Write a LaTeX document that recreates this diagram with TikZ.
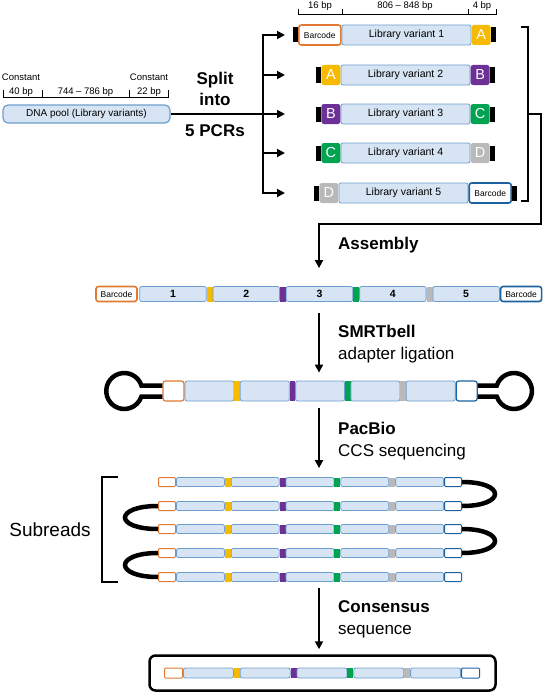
\documentclass[tikz,border=0pt]{standalone}
\usepackage{fontspec}
\setmainfont{Liberation Sans}
\usetikzlibrary{arrows.meta, positioning, calc}
\definecolor{libfill}{RGB}{214,228,243}
\definecolor{libline}{RGB}{110,158,206}
\definecolor{bcorange}{RGB}{224,122,50}
\definecolor{bcblue}{RGB}{28,98,160}
\definecolor{tagyellow}{RGB}{246,186,0}
\definecolor{tagpurple}{RGB}{108,48,150}
\definecolor{taggreen}{RGB}{0,164,80}
\definecolor{taggray}{RGB}{185,185,185}

\begin{document}
\begin{tikzpicture}[x=1pt,y=-1pt,
    seg/.style={rectangle,draw=libline,fill=libfill,line width=0.8pt,rounded corners=2pt,inner sep=0pt},
    bcode/.style={rectangle,draw=#1,fill=white,line width=1.6pt,rounded corners=2.5pt,inner sep=0pt,font=\fontsize{8.5}{10}\selectfont},
    link/.style={rectangle,fill=#1,inner sep=0pt,outer sep=0pt},
    tag/.style={rectangle,fill=#1,rounded corners=2.5pt,inner sep=0pt,minimum width=19pt,minimum height=20pt,text=white,font=\fontsize{14.5}{14}\selectfont},
    endcap/.style={rectangle,fill=black,inner sep=0pt,minimum width=5pt,minimum height=15pt},
    flow/.style={-{Triangle[length=8pt,width=8pt]},line width=1.8pt},
    stage/.style={anchor=west,inner sep=0pt,align=left,font=\fontsize{17}{22}\selectfont},
    dim/.style={inner sep=0pt,align=center,font=\fontsize{9.5}{14}\selectfont},
    hairpin/.style={line width=4.5pt}]

    \useasboundingbox (0,0) rectangle (543,693);

    % DNA pool with its constant ends
    \node[seg,minimum width=167pt,minimum height=18pt,rounded corners=5pt,line width=1.2pt,font=\fontsize{10}{12}\selectfont] (pool) at (86.5,114) {DNA pool (Library variants)};
    \node[dim] (c40) at (21,85) {Constant\\40 bp};
    \node[dim] (var) at (85.5,92) {744 -- 786 bp};
    \node[dim] (c22) at (149,85) {Constant\\22 bp};
    \draw[line width=1pt] (3,90) -- (3,97) -- (168,97) -- (168,90) (42,90) -- (42,97) (129,90) -- (129,97);

    % Split into 5 PCRs
    \node[font=\bfseries\fontsize{17}{21}\selectfont,align=center] (split) at (215,89) {Split\\into};
    \node[font=\bfseries\fontsize{17}{21}\selectfont] (pcrs) at (215,131) {5 PCRs};

    % PCR products
    \begin{scope}[seg/.append style={minimum width=129pt,minimum height=20pt,font=\fontsize{10.5}{12}\selectfont},
                  bcode/.append style={minimum width=42pt,minimum height=20pt}]
    \node[seg] (lib1) at (406.5,35) {Library variant 1};
    \node[bcode=bcorange,left=0pt of lib1] (bc1) {Barcode};
    \node[tag=tagyellow,right=0pt of lib1] (tr1) {A};
    \node[endcap,left=0pt of bc1] (cl1) {};
    \node[endcap,right=0pt of tr1] (cr1) {};

    \node[seg] (lib2) at (405.5,75) {Library variant 2};
    \node[tag=tagyellow,left=0pt of lib2] (tl2) {A};
    \node[tag=tagpurple,right=0pt of lib2] (tr2) {B};
    \node[endcap,left=0pt of tl2] (cl2) {};
    \node[endcap,right=0pt of tr2] (cr2) {};

    \node[seg] (lib3) at (405.5,114) {Library variant 3};
    \node[tag=tagpurple,left=0pt of lib3] (tl3) {B};
    \node[tag=taggreen,right=0pt of lib3] (tr3) {C};
    \node[endcap,left=0pt of tl3] (cl3) {};
    \node[endcap,right=0pt of tr3] (cr3) {};

    \node[seg] (lib4) at (405.5,153) {Library variant 4};
    \node[tag=taggreen,left=0pt of lib4] (tl4) {C};
    \node[tag=taggray,right=0pt of lib4] (tr4) {D};
    \node[endcap,left=0pt of tl4] (cl4) {};
    \node[endcap,right=0pt of tr4] (cr4) {};

    \node[seg] (lib5) at (403.5,193) {Library variant 5};
    \node[tag=taggray,left=0pt of lib5] (tl5) {D};
    \node[bcode=bcblue,right=0pt of lib5] (bc5) {Barcode};
    \node[endcap,left=0pt of tl5] (cl5) {};
    \node[endcap,right=0pt of bc5] (cr5) {};
    \end{scope}

    \node[dim] (d16) at (320,6) {16 bp};
    \node[dim] (d806) at (405,6) {806 -- 848 bp};
    \node[dim] (d4) at (482,6) {4 bp};
    \draw[line width=1pt] (298,9) -- (298,15) -- (496,15) -- (496,9) (342,9) -- (342,15) (468,9) -- (468,15);

    % Split arrows
    \coordinate (hub) at (263,114);
    \coordinate (tips) at (285,114);
    \draw[line width=1.8pt] (pool.east) -- (hub);
    \draw[line width=1.8pt,line cap=rect] (hub |- lib1) -- (hub |- lib5);
    \foreach \i in {1,...,5}
        \draw[flow] (hub |- lib\i) -- (tips |- lib\i);

    % Assembled construct
    \begin{scope}[seg/.append style={minimum width=66.5pt,minimum height=15pt,font=\bfseries\fontsize{10.5}{12}\selectfont},
                  link/.append style={minimum width=6pt,minimum height=15pt},
                  bcode/.append style={minimum width=41pt,minimum height=15pt}]
    \node[bcode=bcorange] (ab1) at (116.5,294) {Barcode};
    \node[seg,right=1.5pt of ab1] (n1) {1};
    \node[link=tagyellow,right=0pt of n1] (k1) {};
    \node[seg,right=0pt of k1] (n2) {2};
    \node[link=tagpurple,right=0pt of n2] (k2) {};
    \node[seg,right=0pt of k2] (n3) {3};
    \node[link=taggreen,right=0pt of n3] (k3) {};
    \node[seg,right=0pt of k3] (n4) {4};
    \node[link=taggray,right=0pt of n4] (k4) {};
    \node[seg,right=0pt of k4] (n5) {5};
    \node[bcode=bcblue,right=0pt of n5] (ab2) {Barcode};
    \end{scope}

    % Assembly connector
    \coordinate (axis) at (319,300);
    \coordinate (join) at (528,114);
    \coordinate (turn) at (541,224);
    \draw[line width=1.8pt] (521,27) -- (528,27) -- (528,201) -- (521,201);
    \draw[flow,shorten >=18pt] (join) -| (turn) -| (axis |- n3.north);
    \node[stage] (asm) at (338,245) {\textbf{Assembly}};

    % SMRTbell template
    \begin{scope}[seg/.append style={minimum width=49pt,minimum height=20pt},
                  link/.append style={minimum width=5.5pt,minimum height=20pt},
                  bcode/.append style={minimum width=21pt,minimum height=20pt,line width=1.2pt}]
    \node[bcode=bcorange] (sb1) at (173.5,391) {};
    \node[seg,right=0pt of sb1] (s1) {};
    \node[link=tagyellow,right=0pt of s1] (m1) {};
    \node[seg,right=0pt of m1] (s2) {};
    \node[link=tagpurple,right=0pt of s2] (m2) {};
    \node[seg,right=0pt of m2] (s3) {};
    \node[link=taggreen,right=0pt of s3] (m3) {};
    \node[seg,right=0pt of m3] (s4) {};
    \node[link=taggray,right=0pt of s4] (m4) {};
    \node[seg,right=0pt of m4] (s5) {};
    \node[bcode=bcblue,right=0pt of s5] (sb2) {};
    \end{scope}
    \draw[hairpin] ([yshift=5.5pt]sb1.west) -- ++(-21,0) arc[start angle=-17.8,end angle=-342.2,radius=18] -- ([yshift=-5.5pt]sb1.west);
    \draw[hairpin] ([yshift=5.5pt]sb2.east) -- ++(19,0) arc[start angle=-162.2,end angle=162.2,radius=18] -- ([yshift=-5.5pt]sb2.east);

    \draw[flow,shorten <=11pt,shorten >=8pt] (axis |- n3.south) -- (axis |- s3.north);
    \node[stage] (smrt) at (338,344) {\textbf{SMRTbell}\\adapter ligation};

    % Subreads
    \begin{scope}[seg/.append style={minimum width=48pt,minimum height=9pt},
                  link/.append style={minimum width=6pt,minimum height=9pt},
                  bcode/.append style={minimum width=17pt,minimum height=9pt,line width=1pt,rounded corners=1pt}]
    \foreach \r/\y in {1/482,2/506,3/529,4/553,5/577}{
        \node[bcode=bcorange] (r\r-0) at (167,\y) {};
        \node[seg,right=0pt of r\r-0] (r\r-1) {};
        \node[link=tagyellow,right=0pt of r\r-1] (r\r-k1) {};
        \node[seg,right=0pt of r\r-k1] (r\r-2) {};
        \node[link=tagpurple,right=0pt of r\r-2] (r\r-k2) {};
        \node[seg,right=0pt of r\r-k2] (r\r-3) {};
        \node[link=taggreen,right=0pt of r\r-3] (r\r-k3) {};
        \node[seg,right=0pt of r\r-k3] (r\r-4) {};
        \node[link=taggray,right=0pt of r\r-4] (r\r-k4) {};
        \node[seg,right=0pt of r\r-k4] (r\r-5) {};
        \node[bcode=bcblue,right=0pt of r\r-5] (r\r-6) {};
    }
    \end{scope}
    \draw[hairpin] (r1-6.east) .. controls +(44,0) and +(44,0) .. (r2-6.east);
    \draw[hairpin] (r3-6.east) .. controls +(44,0) and +(44,0) .. (r4-6.east);
    \draw[hairpin] (r2-0.west) .. controls +(-44,0) and +(-44,0) .. (r3-0.west);
    \draw[hairpin] (r4-0.west) .. controls +(-44,0) and +(-44,0) .. (r5-0.west);

    \draw[line width=1.5pt] (118,477) -- (102,477) -- (102,582) -- (118,582);
    \node[font=\fontsize{19}{22}\selectfont] (subreads) at (50,530) {Subreads};

    \draw[flow,shorten <=7pt,shorten >=9pt] (axis |- s3.south) -- (axis |- r1-3.north);
    \node[stage] (pacbio) at (338,441) {\textbf{PacBio}\\CCS sequencing};

    % Consensus read
    \node[draw,line width=2.5pt,rounded corners=6pt,minimum width=346pt,minimum height=35pt] (box) at (322.5,673) {};
    \begin{scope}[seg/.append style={minimum width=50pt,minimum height=10pt},
                  link/.append style={minimum width=6pt,minimum height=10pt},
                  bcode/.append style={minimum width=18pt,minimum height=10pt,line width=1pt,rounded corners=1pt}]
    \node[bcode=bcorange] (q0) at (173.5,673) {};
    \node[seg,right=0pt of q0] (q1) {};
    \node[link=tagyellow,right=0pt of q1] (qk1) {};
    \node[seg,right=0pt of qk1] (q2) {};
    \node[link=tagpurple,right=0pt of q2] (qk2) {};
    \node[seg,right=0pt of qk2] (q3) {};
    \node[link=taggreen,right=0pt of q3] (qk3) {};
    \node[seg,right=0pt of qk3] (q4) {};
    \node[link=taggray,right=0pt of q4] (qk4) {};
    \node[seg,right=0pt of qk4] (q5) {};
    \node[bcode=bcblue,right=0pt of q5] (q6) {};
    \end{scope}

    \draw[flow,shorten <=6pt,shorten >=5pt] (axis |- r5-3.south) -- (axis |- box.north);
    \node[stage] (consensus) at (338,619) {\textbf{Consensus}\\sequence};
\end{tikzpicture}
\end{document}
